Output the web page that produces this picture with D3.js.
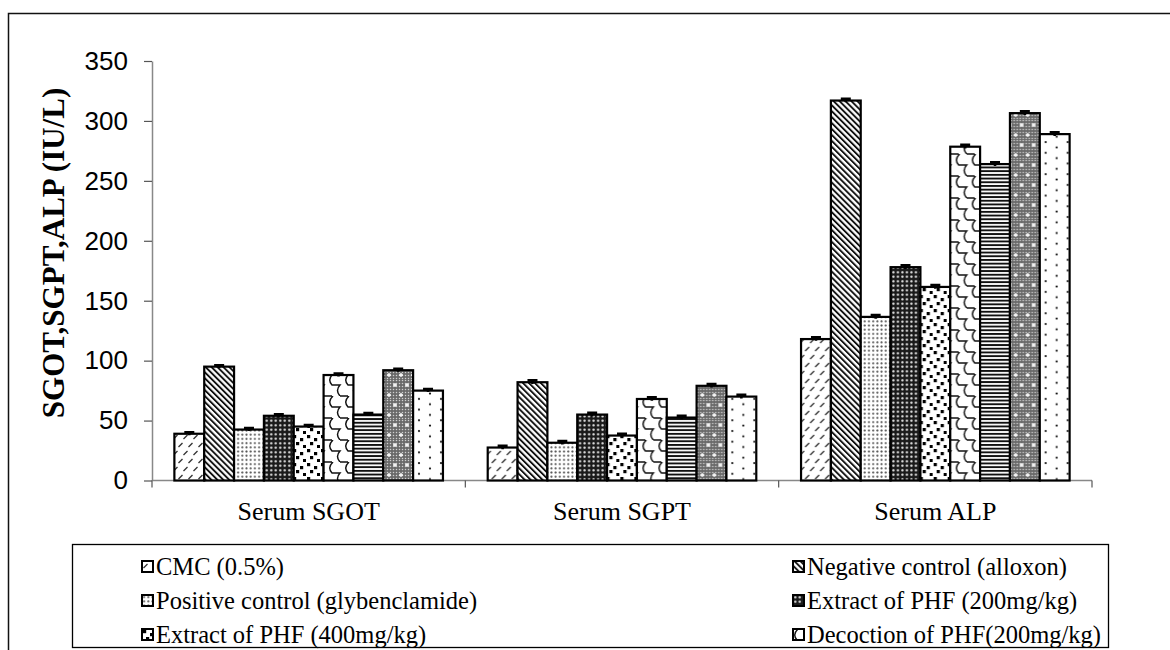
<!DOCTYPE html>
<html>
<head>
  <meta charset="utf-8">
  <title>SGOT, SGPT, ALP</title>
  <script src="https://cdn.jsdelivr.net/npm/d3@7"></script>
  <style>
    body { margin: 0; background: #fff; }
    svg { display: block; }
  </style>
</head>
<body>
<svg id="chart" width="1170" height="650"></svg>

<script>
  // data
  var categories = ['Serum SGOT', 'Serum SGPT', 'Serum ALP'];
  var seriesKeys = ['s1', 's2', 's3', 's4', 's5', 's6', 's7', 's8', 's9'];
  var legendLabels = ['CMC (0.5%)', 'Negative control (alloxon)', 'Positive control (glybenclamide)',
    'Extract of PHF (200mg/kg)', 'Extract of PHF (400mg/kg)', 'Decoction of PHF(200mg/kg)'];

  // one array per series, values in order of categories
  var s1 = [39, 27.5, 118];
  var s2 = [95, 82, 317];
  var s3 = [42.5, 31.5, 136.5];
  var s4 = [54, 55, 178];
  var s5 = [45, 37.5, 161.5];
  var s6 = [88, 68, 278.5];
  var s7 = [55, 52.5, 264];
  var s8 = [92, 79, 306.5];
  var s9 = [75, 70, 289];
  var errors = [1.2, 1.5, 1.5];
  var yTicks = [0, 50, 100, 150, 200, 250, 300, 350];

  var seriesValues = [s1, s2, s3, s4, s5, s6, s7, s8, s9];

  var svg = d3.select('#chart');

  // outer frame
  svg.append('rect')
    .attr('x', 8.5).attr('y', 13.5)
    .attr('width', 1300).attr('height', 800)
    .attr('fill', 'none').attr('stroke', '#111').attr('stroke-width', 1.5);

  // ---- fill patterns (one per series) ----
  var defs = svg.append('defs');

  function pat(id, w, h, bg) {
    var p = defs.append('pattern').attr('id', id)
      .attr('patternUnits', 'userSpaceOnUse')
      .attr('width', w).attr('height', h);
    p.append('rect').attr('width', w).attr('height', h).attr('fill', bg);
    return p;
  }

  // 1: dashed upward diagonal
  var p1 = pat('p1', 10, 16, '#fff');
  p1.append('path').attr('d', 'M1.5,7 L5.5,3 M6.5,15 L10.5,11 M-3.5,15 L0.5,11')
    .attr('stroke', '#333').attr('stroke-width', 1.3);

  // 2: wide downward diagonal
  var p2 = pat('p2', 4.2, 4.2, '#fff').attr('patternTransform', 'rotate(-45)');
  p2.append('rect').attr('width', 1.9).attr('height', 4.2).attr('fill', '#111');

  // 3: dotted grid
  var p3 = pat('p3', 4.2, 4.2, '#fff');
  p3.append('circle').attr('cx', 2.1).attr('cy', 2.1).attr('r', 1).attr('fill', '#555');

  // 4: dark grid with light dots
  var p4 = pat('p4', 4.5, 4.5, '#1a1a1a');
  p4.append('circle').attr('cx', 2.25).attr('cy', 2.25).attr('r', 1.15).attr('fill', '#eee');

  // 5: large confetti
  var p5 = pat('p5', 14, 14, '#fff');
  [[1, 1], [8, 4], [4, 8], [11, 11]].forEach(function (c) {
    p5.append('rect').attr('x', c[0]).attr('y', c[1]).attr('width', 3.2).attr('height', 3.2).attr('fill', '#000');
  });

  // 6: shingle
  var p6 = pat('p6', 16, 22, '#fff');
  p6.append('path')
    .attr('d', 'M5,0 Q-1,5.5 4,11 H12 Q7,16.5 12,22 H16 M0,22 H4 M12,0 H16 M0,0 H5')
    .attr('fill', 'none').attr('stroke', '#111').attr('stroke-width', 1.4);

  // 7: narrow horizontal
  var p7 = pat('p7', 4, 3.7, '#fff');
  p7.append('rect').attr('width', 4).attr('height', 1.9).attr('fill', '#111');

  // 8: gray dotted with white stars
  var p8 = pat('p8', 12, 20, '#6a6a6a');
  for (var i = 0; i < 4; i++) {
    for (var j = 0; j < 7; j++) {
      p8.append('circle').attr('cx', i * 3 + 1.5).attr('cy', j * 3 + 0.5).attr('r', 0.75).attr('fill', '#cfcfcf');
    }
  }
  [[3, 5], [9, 15]].forEach(function (c) {
    p8.append('path').attr('d', 'M' + (c[0] - 2) + ',' + c[1] + 'h4M' + c[0] + ',' + (c[1] - 2) + 'v4')
      .attr('stroke', '#fff').attr('stroke-width', 1.3);
  });

  // 9: sparse dots
  var p9 = pat('p9', 22, 10.7, '#fff');
  p9.append('circle').attr('cx', 3).attr('cy', 3).attr('r', 1.1).attr('fill', '#111');
  p9.append('circle').attr('cx', 14).attr('cy', 8.35).attr('r', 1.1).attr('fill', '#111');

  // ---- scales ----
  var x0 = d3.scaleBand().domain(categories).range([152, 1092]).padding(0);
  var x1 = d3.scaleBand().domain(seriesKeys).range([0, x0.bandwidth()])
    .paddingInner(0).paddingOuter(0.75);
  var y = d3.scaleLinear().domain([0, 350]).range([480.5, 61]);

  // ---- y axis ----
  var yAxis = svg.append('g')
    .attr('transform', 'translate(152,0)')
    .call(d3.axisLeft(y).tickValues(yTicks).tickSize(8).tickSizeOuter(0));
  yAxis.select('.domain').attr('stroke', '#888').attr('stroke-width', 1.5);
  yAxis.selectAll('.tick line').attr('stroke', '#555').attr('stroke-width', 1.2);
  yAxis.selectAll('.tick text')
    .attr('x', -24)
    .attr('fill', '#000')
    .style('font-family', '"Liberation Sans", Arial, sans-serif')
    .style('font-size', '26px');

  svg.append('text')
    .attr('transform', 'translate(64,253) rotate(-90)')
    .attr('text-anchor', 'middle')
    .style('font-family', '"Liberation Serif", "Times New Roman", serif')
    .style('font-weight', 'bold')
    .style('font-size', '31px')
    .text('SGOT,SGPT,ALP (IU/L)');

  // ---- x axis ----
  var xAxis = svg.append('g');
  xAxis.append('line')
    .attr('x1', x0.range()[0]).attr('x2', x0.range()[1])
    .attr('y1', y(0)).attr('y2', y(0))
    .attr('stroke', '#888').attr('stroke-width', 1.5);
  var bounds = categories.map(function (c) { return x0(c); }).concat([x0.range()[1]]);
  xAxis.selectAll('.xtick').data(bounds).enter().append('line')
    .attr('x1', function (d) { return d; }).attr('x2', function (d) { return d; })
    .attr('y1', y(0)).attr('y2', y(0) + 7)
    .attr('stroke', '#555').attr('stroke-width', 1.2);
  xAxis.selectAll('.xlab').data(categories).enter().append('text')
    .attr('x', function (d) { return x0(d) + x0.bandwidth() / 2; })
    .attr('y', 520)
    .attr('text-anchor', 'middle')
    .style('font-family', '"Liberation Serif", "Times New Roman", serif')
    .style('font-size', '26px')
    .text(function (d) { return d; });

  // ---- bars ----
  var groups = svg.selectAll('.grp').data(categories).enter().append('g')
    .attr('transform', function (d) { return 'translate(' + x0(d) + ',0)'; });

  groups.each(function (cat, ci) {
    var g = d3.select(this);
    var rows = seriesKeys.map(function (k, si) {
      return { key: k, idx: si, value: seriesValues[si][ci], err: errors[ci] };
    });

    g.selectAll('rect').data(rows).enter().append('rect')
      .attr('x', function (d) { return x1(d.key); })
      .attr('y', function (d) { return y(d.value); })
      .attr('width', x1.bandwidth())
      .attr('height', function (d) { return y(0) - y(d.value); })
      .attr('fill', function (d) { return 'url(#p' + (d.idx + 1) + ')'; })
      .attr('stroke', '#000')
      .attr('stroke-width', 2.2);

    // error bars
    g.selectAll('.err').data(rows).enter().append('path')
      .attr('d', function (d) {
        var cx = x1(d.key) + x1.bandwidth() / 2;
        var top = y(d.value + d.err), bot = y(d.value - d.err);
        return 'M' + cx + ',' + bot + 'V' + top + 'M' + (cx - 5) + ',' + top + 'H' + (cx + 5);
      })
      .attr('stroke', '#000').attr('stroke-width', 2.6).attr('fill', 'none');
  });

  // ---- legend ----
  var legend = svg.append('g');
  legend.append('rect')
    .attr('x', 72.5).attr('y', 544.5).attr('width', 1036).attr('height', 103)
    .attr('fill', '#fff').attr('stroke', '#000').attr('stroke-width', 1.3);

  var items = legend.selectAll('.item').data(legendLabels).enter().append('g')
    .attr('transform', function (d, i) {
      return 'translate(' + (i % 2 === 0 ? 142 : 793) + ',' + (561 + Math.floor(i / 2) * 34) + ')';
    });
  items.append('rect')
    .attr('width', 11).attr('height', 11)
    .attr('fill', function (d, i) { return 'url(#p' + (i + 1) + ')'; })
    .attr('stroke', '#000').attr('stroke-width', 2);
  items.append('text')
    .attr('x', 14).attr('y', 14)
    .style('font-family', '"Liberation Serif", "Times New Roman", serif')
    .style('font-size', '24.5px')
    .text(function (d) { return d; });
</script>
</body>
</html>
